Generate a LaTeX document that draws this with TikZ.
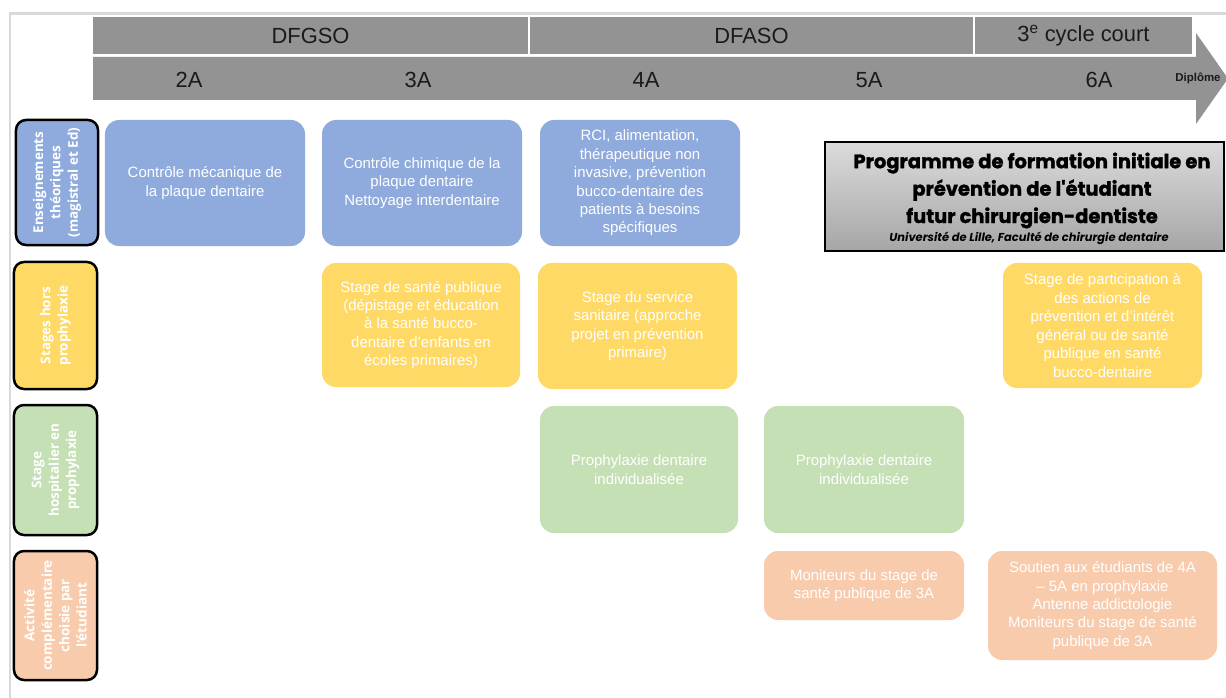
\documentclass[tikz,border=0pt]{standalone}
\usepackage{fontspec}
\setmainfont{Liberation Sans}
\newfontfamily\lblfont{Open Sans}
\newfontfamily\ttlfont[BoldFeatures={FakeBold=1.5}]{Poppins}
\definecolor{hdrgray}{HTML}{939393}
\definecolor{hdrtext}{HTML}{1A1A1A}
\definecolor{framegray}{HTML}{D9D9D9}
\definecolor{cblue}{HTML}{8FAADC}
\definecolor{cyellow}{HTML}{FFD966}
\definecolor{cgreen}{HTML}{C5E0B4}
\definecolor{corange}{HTML}{F8CBAD}
\tikzset{
  hdrbar/.style={fill=hdrgray, inner sep=0, text=hdrtext, font=\fontsize{22}{24}\selectfont},
  hdrlabel/.style={text=hdrtext, inner sep=0, font=\fontsize{22}{24}\selectfont},
  cbox/.style={rounded corners=14bp, inner sep=0, text=white, align=center,
    font=\fontsize{15}{18.5}\selectfont},
  rowlabel/.style={rounded corners=10bp, draw=black, line width=2.5bp, inner sep=0,
    text=white, align=center, rotate=90, font=\lblfont\bfseries\fontsize{13.5}{17.5}\selectfont},
}
\begin{document}
\begin{tikzpicture}[x=1bp,y=-1bp]
\useasboundingbox (0,0) rectangle (1226,698);
% frame
\draw[framegray, line width=3bp] (10,13.5) -- (1226,13.5);
\draw[framegray, line width=2bp] (10,12) -- (10,698);
% header top bar
\node[hdrbar, minimum width=435bp, minimum height=37bp] (dfgso) at (310.5,35.5) {DFGSO};
\node[hdrbar, minimum width=443bp, minimum height=37bp] (dfaso) at (751.5,35.5) {DFASO};
\node[hdrbar, minimum width=217bp, minimum height=37bp] (cycle) at (1083.5,35.5) {3\textsuperscript{e} cycle court};
% arrow
\fill[hdrgray] (93,57) -- (1196,57) -- (1196,33) -- (1228,78.5) -- (1196,124) -- (1196,100) -- (93,100) -- cycle;
\node[hdrlabel] (y2) at (189,80) {2A};
\node[hdrlabel] (y3) at (418,80) {3A};
\node[hdrlabel] (y4) at (646,80) {4A};
\node[hdrlabel] (y5) at (869,80) {5A};
\node[hdrlabel] (y6) at (1099,80) {6A};
\node[text=hdrtext, inner sep=0, font=\bfseries\fontsize{11.5}{12}\selectfont] (dipl) at (1198,78.5) {Diplôme};
% row labels
\node[rowlabel, fill=cblue, minimum width=125bp, minimum height=82bp] (l1) at (57,182.5) {Enseignements\\théoriques\\(magistral et Ed)};
\node[rowlabel, fill=cyellow, minimum width=127bp, minimum height=83bp] (l2) at (55.5,325.5) {Stages hors\\prophylaxie};
\node[rowlabel, fill=cgreen, minimum width=130bp, minimum height=83bp] (l3) at (55.5,470) {Stage\\hospitalier en\\prophylaxie};
\node[rowlabel, fill=corange, minimum width=129bp, minimum height=83bp] (l4) at (55.5,615.5) {Activité\\complémentaire\\choisie par\\l'étudiant};
% row 1
\node[cbox, fill=cblue, minimum width=200bp, minimum height=126bp] (b1) at (205,183) {Contrôle mécanique de\\la plaque dentaire};
\node[cbox, fill=cblue, minimum width=200bp, minimum height=126bp] (b2) at (422,183) {Contrôle chimique de la\\plaque dentaire\\Nettoyage interdentaire};
\node[cbox, fill=cblue, minimum width=200bp, minimum height=126bp] (b3) at (640,183) {RCI, alimentation,\\thérapeutique non\\invasive, prévention\\bucco-dentaire des\\patients à besoins\\spécifiques};
% row 2
\node[cbox, fill=cyellow, minimum width=198bp, minimum height=124bp] (s1) at (421,325) {Stage de santé publique\\(dépistage et éducation\\à la santé bucco-\\dentaire d’enfants en\\écoles primaires)};
\node[cbox, fill=cyellow, minimum width=199bp, minimum height=126bp] (s2) at (637.5,326) {Stage du service\\sanitaire (approche\\projet en prévention\\primaire)};
\node[cbox, fill=cyellow, minimum width=199bp, minimum height=125bp] (s3) at (1102.5,325.5) {Stage de participation à\\des actions de\\prévention et d’intérêt\\général ou de santé\\publique en santé\\bucco-dentaire};
% row 3
\node[cbox, fill=cgreen, minimum width=198bp, minimum height=127bp] (p1) at (639,469.5) {Prophylaxie dentaire\\individualisée};
\node[cbox, fill=cgreen, minimum width=200bp, minimum height=127bp] (p2) at (864,469.5) {Prophylaxie dentaire\\individualisée};
% row 4
\node[cbox, fill=corange, minimum width=200bp, minimum height=69bp] (a1) at (864,585.5) {Moniteurs du stage de\\santé publique de 3A};
\node[cbox, fill=corange, minimum width=229bp, minimum height=109bp] (a2) at (1102.5,605.5) {Soutien aux étudiants de 4A\\– 5A en prophylaxie\\Antenne addictologie\\Moniteurs du stage de santé\\publique de 3A};
% title
\node[draw=black, line width=2.5bp, top color=black!14, bottom color=black!35,
  minimum width=399bp, minimum height=109bp, inner sep=0] (tbox) at (1024.5,196.5) {};
\node[align=center, inner sep=0, font=\ttlfont\bfseries\fontsize{19.5}{27.5}\selectfont] (ttl) at (1032,190.5)
  {Programme de formation initiale en\\prévention de l'étudiant\\futur chirurgien-dentiste};
\node[inner sep=0, font=\ttlfont\bfseries\itshape\fontsize{11.5}{13}\selectfont] (sub) at (1029,238)
  {Université de Lille, Faculté de chirurgie dentaire};
\end{tikzpicture}
\end{document}
